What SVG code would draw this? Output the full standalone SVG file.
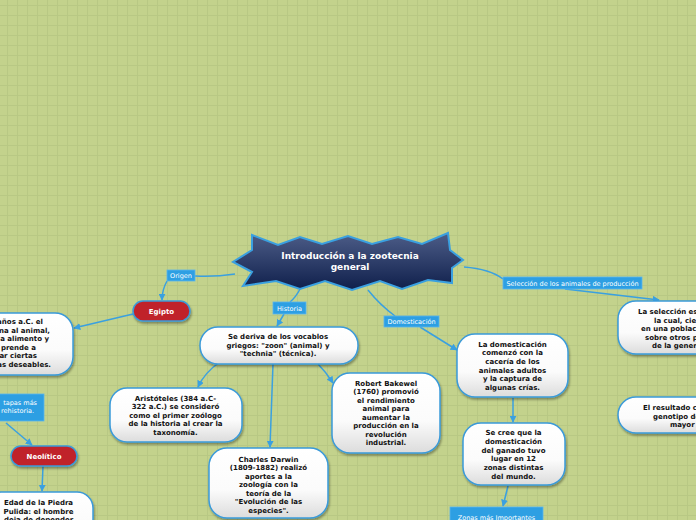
<svg xmlns="http://www.w3.org/2000/svg" width="696" height="520" viewBox="0 0 696 520">
<defs>
<pattern id="grid" x="7" y="5" width="10" height="10" patternUnits="userSpaceOnUse">
<rect width="10" height="10" fill="#c3d28c"/>
<path d="M0 0.5H10M0.5 0V10" stroke="#b8c884" stroke-width="1" fill="none"/>
</pattern>
<linearGradient id="starg" x1="0" y1="0" x2="0" y2="1">
<stop offset="0" stop-color="#4d5d88"/>
<stop offset="1" stop-color="#0f1f4b"/>
</linearGradient>
<linearGradient id="nodeg" x1="0" y1="0" x2="0" y2="1">
<stop offset="0" stop-color="#ffffff"/>
<stop offset="0.6" stop-color="#fbfbfb"/>
<stop offset="1" stop-color="#dcdcdc"/>
</linearGradient>
<filter id="sh" x="-20%" y="-20%" width="140%" height="150%">
<feDropShadow dx="1" dy="2" stdDeviation="1.2" flood-color="#000" flood-opacity="0.35"/>
</filter>
<marker id="arr" viewBox="0 0 10 10" refX="9" refY="5" markerWidth="7" markerHeight="7" markerUnits="userSpaceOnUse" orient="auto">
<path d="M0 0L10 5L0 10Z" fill="#3aa0e0"/>
</marker>
</defs>
<style>
.node{fill:url(#nodeg);stroke:#3a9ad9;stroke-width:1.5;filter:url(#sh)}
.red{fill:#c0232b;stroke:#3a9ad9;stroke-width:1.5;filter:url(#sh)}
.lab{fill:#2d9fe3;stroke:#5ab6ee;stroke-width:0.8}
.t{font-family:"DejaVu Sans",Verdana,sans-serif;font-size:7px;font-weight:bold;fill:#111;text-anchor:middle}
.tw{font-family:"DejaVu Sans",Verdana,sans-serif;font-size:7px;font-weight:bold;fill:#fff;text-anchor:middle}
.tl{font-family:"DejaVu Sans",Verdana,sans-serif;font-size:6.5px;fill:#fff;text-anchor:middle}
.c{fill:none;stroke:#3aa0e0;stroke-width:1.5}
</style>
<rect width="696" height="520" fill="url(#grid)"/>

<g id="connectors">
<path class="c" d="M235 274 Q215 277 195 276"/>
<path class="c" d="M167 281 Q162 290 162 300" marker-end="url(#arr)"/>
<path class="c" d="M133 314 L74 328" marker-end="url(#arr)"/>
<path class="c" d="M6 423 L32 445" marker-end="url(#arr)"/>
<path class="c" d="M43 466 L42 491" marker-end="url(#arr)"/>
<path class="c" d="M300 289 Q296 297 290 302"/>
<path class="c" d="M284 314 L277 326" marker-end="url(#arr)"/>
<path class="c" d="M220 362 Q205 372 198 387" marker-end="url(#arr)"/>
<path class="c" d="M273 364 L270 447" marker-end="url(#arr)"/>
<path class="c" d="M318 364 Q326 372 333 383" marker-end="url(#arr)"/>
<path class="c" d="M368 290 Q380 305 395 316"/>
<path class="c" d="M420 327 L457 350" marker-end="url(#arr)"/>
<path class="c" d="M513 398 L513 422" marker-end="url(#arr)"/>
<path class="c" d="M508 486 L503 506" marker-end="url(#arr)"/>
<path class="c" d="M464 267 Q490 269 503 279"/>
<path class="c" d="M565 289 L659 300" marker-end="url(#arr)"/>
</g>

<g id="title">
<polygon points="252,235 278,245 300,237 322,244 348,236 372,244 398,237 422,244 448,233 450,250 463,260 452,268 452,283 428,280 402,289 380,281 352,290 325,281 300,289 276,281 243,286 252,272 233,262 252,250" fill="url(#starg)" stroke="#3aa0e0" stroke-width="2" stroke-linejoin="miter"/>
<text class="tw" style="font-size:9px" x="350" y="259">Introducción a la zootecnia</text>
<text class="tw" style="font-size:9px" x="350" y="270">general</text>
</g>

<g id="origen">
<rect class="lab" x="167" y="270" width="28" height="11"/>
<text class="tl" x="181" y="278">Origen</text>
</g>

<g id="egipto">
<rect class="red" x="133" y="301" width="57" height="20" rx="10"/>
<text class="tw" x="161.5" y="314">Egipto</text>
</g>

<g id="egipto-text">
<rect class="node" x="-40" y="313" width="113" height="62" rx="18"/>
<text class="t" style="text-anchor:end" x="43" y="324">años a.C. el</text>
<text class="t" style="text-anchor:end" x="50" y="332.5">na al animal,</text>
<text class="t" style="text-anchor:end" x="49" y="341">a alimento y</text>
<text class="t" style="text-anchor:end" x="36" y="349.5">prende a</text>
<text class="t" style="text-anchor:end" x="37" y="358">ar ciertas</text>
<text class="t" style="text-anchor:end" x="51" y="366.5">as deseables.</text>
</g>

<g id="etapas">
<rect class="lab" x="-5" y="394" width="49" height="27"/>
<text class="tl" style="text-anchor:end" x="37" y="405">tapas más</text>
<text class="tl" style="text-anchor:end" x="34" y="413">rehistoria.</text>
</g>

<g id="neolitico">
<rect class="red" x="11" y="446" width="66" height="20" rx="10"/>
<text class="tw" x="44" y="459">Neolítico</text>
</g>

<g id="piedra">
<rect class="node" x="-15" y="492" width="108" height="50" rx="16"/>
<text class="t" x="38.5" y="505">Edad de la Piedra</text>
<text class="t" x="38.5" y="513.5">Pulida: el hombre</text>
<text class="t" x="38.5" y="522">deja de depender</text>
</g>

<g id="historia">
<rect class="lab" x="273" y="302" width="33" height="12"/>
<text class="tl" x="289.5" y="310.5">Historia</text>
</g>

<g id="deriva">
<rect class="node" x="200" y="327" width="158" height="37" rx="18"/>
<text class="t" x="278" y="339">Se deriva de los vocablos</text>
<text class="t" x="278" y="347.5">griegos: "zoon" (animal) y</text>
<text class="t" x="278" y="356">"technia" (técnica).</text>
</g>

<g id="aristoteles">
<rect class="node" x="110" y="388" width="132" height="54" rx="17"/>
<text class="t" x="175.5" y="400.5">Aristóteles (384 a.C-</text>
<text class="t" x="175.5" y="409">322 a.C.) se consideró</text>
<text class="t" x="175.5" y="417.5">como el primer zoólogo</text>
<text class="t" x="175.5" y="426">de la historia al crear la</text>
<text class="t" x="175.5" y="434.5">taxonomía.</text>
</g>

<g id="darwin">
<rect class="node" x="209" y="448" width="119" height="70" rx="18"/>
<text class="t" x="268.5" y="461.5">Charles Darwin</text>
<text class="t" x="268.5" y="470">(1809-1882) realizó</text>
<text class="t" x="268.5" y="478.5">aportes a la</text>
<text class="t" x="268.5" y="487">zoología con la</text>
<text class="t" x="268.5" y="495.5">teoría de la</text>
<text class="t" x="268.5" y="504">"Evolución de las</text>
<text class="t" x="268.5" y="512.5">especies".</text>
</g>

<g id="bakewel">
<rect class="node" x="332" y="373" width="108" height="80" rx="18"/>
<text class="t" x="386" y="385.5">Robert Bakewel</text>
<text class="t" x="386" y="394">(1760) promovió</text>
<text class="t" x="386" y="402.5">el rendimiento</text>
<text class="t" x="386" y="411">animal para</text>
<text class="t" x="386" y="419.5">aumentar la</text>
<text class="t" x="386" y="428">producción en la</text>
<text class="t" x="386" y="436.5">revolución</text>
<text class="t" x="386" y="445">industrial.</text>
</g>

<g id="domesticacion">
<rect class="lab" x="384" y="316" width="55" height="11"/>
<text class="tl" x="411.5" y="324">Domesticación</text>
</g>

<g id="comenzo">
<rect class="node" x="457" y="334" width="111" height="63" rx="18"/>
<text class="t" x="512.5" y="346.5">La domesticación</text>
<text class="t" x="512.5" y="355.2">comenzó con la</text>
<text class="t" x="512.5" y="363.9">cacería de los</text>
<text class="t" x="512.5" y="372.6">animales adultos</text>
<text class="t" x="512.5" y="381.3">y la captura de</text>
<text class="t" x="512.5" y="390">algunas crías.</text>
</g>

<g id="secree">
<rect class="node" x="463" y="423" width="102" height="62" rx="18"/>
<text class="t" x="513.5" y="435.2">Se cree que la</text>
<text class="t" x="513.5" y="443.9">domesticación</text>
<text class="t" x="513.5" y="452.6">del ganado tuvo</text>
<text class="t" x="513.5" y="461.3">lugar en 12</text>
<text class="t" x="513.5" y="470">zonas distintas</text>
<text class="t" x="513.5" y="478.7">del mundo.</text>
</g>

<g id="zonas">
<rect class="lab" x="450" y="507" width="93" height="20"/>
<text class="tl" x="496.5" y="520">Zonas más Importantes</text>
</g>

<g id="seleccion-label">
<rect class="lab" x="503" y="277" width="139" height="12"/>
<text class="tl" x="572.5" y="285.5">Selección de los animales de producción</text>
</g>

<g id="seleccion">
<rect class="node" x="618" y="301" width="120" height="53" rx="18"/>
<text class="t" style="text-anchor:start" x="638" y="314">La selección es</text>
<text class="t" style="text-anchor:start" x="654" y="322.5">la cual, cie</text>
<text class="t" style="text-anchor:start" x="641" y="331">en una poblac</text>
<text class="t" style="text-anchor:start" x="645" y="339.5">sobre otros p</text>
<text class="t" style="text-anchor:start" x="652" y="348">de la gener</text>
</g>

<g id="resultado">
<rect class="node" x="618" y="397" width="120" height="36" rx="18"/>
<text class="t" style="text-anchor:start" x="643" y="410">El resultado c</text>
<text class="t" style="text-anchor:start" x="653" y="418.5">genotipo de</text>
<text class="t" style="text-anchor:start" x="670" y="427">mayor</text>
</g>
</svg>
